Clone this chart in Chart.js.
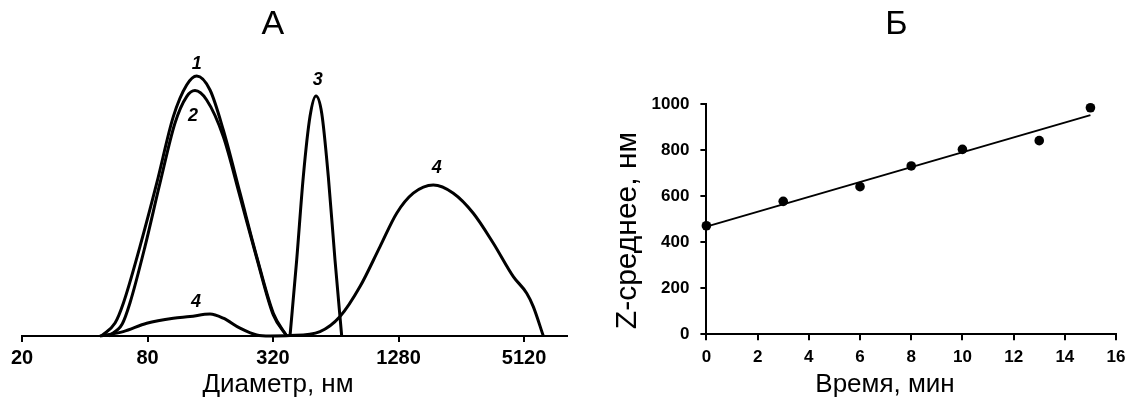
<!DOCTYPE html>
<html><head><meta charset="utf-8">
<script src="https://cdn.jsdelivr.net/npm/chart.js@4.4.1/dist/chart.umd.min.js"></script>
<style>
html,body{margin:0;padding:0;background:#fff;width:1132px;height:410px;overflow:hidden;}
#a{position:absolute;left:0;top:0;}
#b{position:absolute;left:600px;top:0;}
</style></head><body>
<canvas id="a" width="600" height="410"></canvas>
<canvas id="b" width="532" height="410"></canvas>
<script>
// ---------- Panel A: size distributions (diameter, nm  vs  intensity, %) ----------
const diameterTicks = [20, 80, 320, 1280, 5120];

const curve1Diam = [48, 55.9, 61.2, 73.6, 88.6, 106.4, 123.3, 137.8, 159.6, 184.8, 222.3, 267.3, 321.1, 372.3];
const curve1Int  = [0, 0.65, 1.63, 4.47, 7.64, 10.97, 12.55, 13.0, 12.3, 10.3, 7.15, 3.97, 1.14, 0];

const curve2Diam = [52, 60.5, 65.9, 77.8, 91.8, 108.4, 123.3, 135.2, 153.8, 184.8, 222.3, 267.3, 321.1, 372.3];
const curve2Int  = [0, 0.6, 1.65, 4.47, 7.64, 10.65, 11.97, 12.27, 11.8, 9.97, 6.97, 3.9, 1.05, 0];

const curve3Diam = [386.1, 415.7, 447.2, 481.5, 514.6, 548.1, 589.5, 634.7, 683.4];
const curve3Int  = [0, 3.8, 7.97, 10.97, 12.0, 11.14, 7.97, 3.8, 0];

const curve4Diam = [47.3, 61.2, 79.3, 106.4, 127.9, 159.6, 184.8, 222.3, 267.3, 309.6, 386.1, 537.9, 670.8, 836.6, 1043.5, 1254.7, 1507, 1880, 2345, 2924, 3648, 4550, 5275, 5673, 6337];
const curve4Int  = [0, 0.22, 0.64, 0.89, 0.97, 1.1, 0.89, 0.39, 0.05, 0, 0.02, 0.22, 0.97, 2.47, 4.47, 6.14, 7.14, 7.55, 7.14, 6.14, 4.64, 2.97, 2.14, 1.47, 0];

const curveLabels = ['1', '2', '3', '4', '4'];
const labelDiam   = [137.8, 132.2, 524, 136.7, 1952];
const labelInt    = [13.6, 10.99, 12.79, 1.72, 8.41];

// ---------- Panel B: Z-average vs time ----------
const timeMin = [0, 3, 6, 8, 10, 13, 15];
const zAvg    = [472, 578, 642, 732, 804, 842, 985];
const trendTime = [0, 15];
const trendZ    = [468, 953];

const FONT = '"Liberation Sans", Arial, sans-serif';

function pts(xs, ys) { return xs.map((x, i) => ({ x: x, y: ys[i] })); }

function textPlugin(items) {
  return {
    id: 'texts',
    afterDraw(chart) {
      const ctx = chart.ctx;
      ctx.save();
      ctx.fillStyle = '#000';
      ctx.textAlign = 'center';
      ctx.textBaseline = 'middle';
      for (const t of items) {
        let x = t.x, y = t.y;
        if (t.data) {
          x = chart.scales.x.getPixelForValue(t.x);
          y = chart.scales.y.getPixelForValue(t.y);
        }
        ctx.save();
        ctx.translate(x, y);
        if (t.rot) ctx.rotate(t.rot);
        ctx.font = t.font;
        ctx.fillText(t.text, 0, 0);
        ctx.restore();
      }
      ctx.restore();
    }
  };
}

const axisGrid = { display: true, drawOnChartArea: false, drawTicks: true, tickLength: 6, color: '#000', lineWidth: 2 };
const axisBorder = { display: true, color: '#000', width: 2 };

function lineDs(xs, ys) {
  return {
    data: pts(xs, ys), borderColor: '#000', borderWidth: 3, pointRadius: 0,
    fill: false, cubicInterpolationMode: 'monotone', clip: false
  };
}

const textsA = [
  { text: 'А', x: 272.8, y: 25, font: '34px ' + FONT },
  { text: 'Диаметр, нм', x: 278, y: 385, font: '26px ' + FONT }
].concat(curveLabels.map((s, i) => ({
  text: s, x: labelDiam[i], y: labelInt[i], data: true, font: 'italic bold 18px ' + FONT
})));

new Chart(document.getElementById('a'), {
  type: 'line',
  data: {
    datasets: [
      lineDs(curve1Diam, curve1Int),
      lineDs(curve2Diam, curve2Int),
      lineDs(curve3Diam, curve3Int),
      lineDs(curve4Diam, curve4Int)
    ]
  },
  options: {
    responsive: false, animation: false, devicePixelRatio: 1,
    layout: { padding: { left: 22, right: 33, top: 56, bottom: 0 } },
    plugins: { legend: { display: false }, tooltip: { enabled: false }, title: { display: false } },
    scales: {
      x: {
        type: 'logarithmic', min: 20, max: 8232,
        afterBuildTicks: s => { s.ticks = diameterTicks.map(v => ({ value: v })); },
        afterFit: s => { s.height = 74; },
        ticks: { callback: v => String(v), font: { family: FONT, size: 20, weight: 'bold' }, color: '#000', padding: 4, maxRotation: 0, autoSkip: false },
        grid: axisGrid, border: axisBorder
      },
      y: { display: false, min: 0, max: 14 }
    }
  },
  plugins: [textPlugin(textsA)]
});

const textsB = [
  { text: 'Б', x: 296.3, y: 25, font: '34px ' + FONT },
  { text: 'Время, мин', x: 285, y: 385, font: '26px ' + FONT },
  { text: 'Z-среднее, нм', x: 27.5, y: 230.5, rot: -Math.PI / 2, font: '30px ' + FONT }
];

const tickFontB = { family: FONT, size: 17, weight: 'bold' };

new Chart(document.getElementById('b'), {
  type: 'scatter',
  data: {
    datasets: [
      {
        data: pts(timeMin, zAvg), showLine: false, pointRadius: 4.8,
        backgroundColor: '#000', borderColor: '#000', borderWidth: 0, clip: false
      },
      {
        data: pts(trendTime, trendZ), showLine: true, pointRadius: 0,
        borderColor: '#000', borderWidth: 2, fill: false, clip: false
      }
    ]
  },
  options: {
    responsive: false, animation: false, devicePixelRatio: 1,
    layout: { padding: { left: 0, right: 11.3, top: 104.3, bottom: 0 } },
    plugins: { legend: { display: false }, tooltip: { enabled: false }, title: { display: false } },
    scales: {
      x: {
        type: 'linear', min: 0, max: 16,
        afterFit: s => { s.height = 75.7; },
        ticks: { stepSize: 2, callback: v => String(v), font: tickFontB, color: '#000', padding: 6.5, maxRotation: 0 },
        grid: axisGrid, border: axisBorder
      },
      y: {
        type: 'linear', min: 0, max: 1000,
        afterFit: s => { s.width = 106.4; },
        ticks: { stepSize: 200, callback: v => String(v), font: tickFontB, color: '#000', padding: 11 },
        grid: axisGrid, border: axisBorder
      }
    }
  },
  plugins: [textPlugin(textsB)]
});
</script>
</body></html>
